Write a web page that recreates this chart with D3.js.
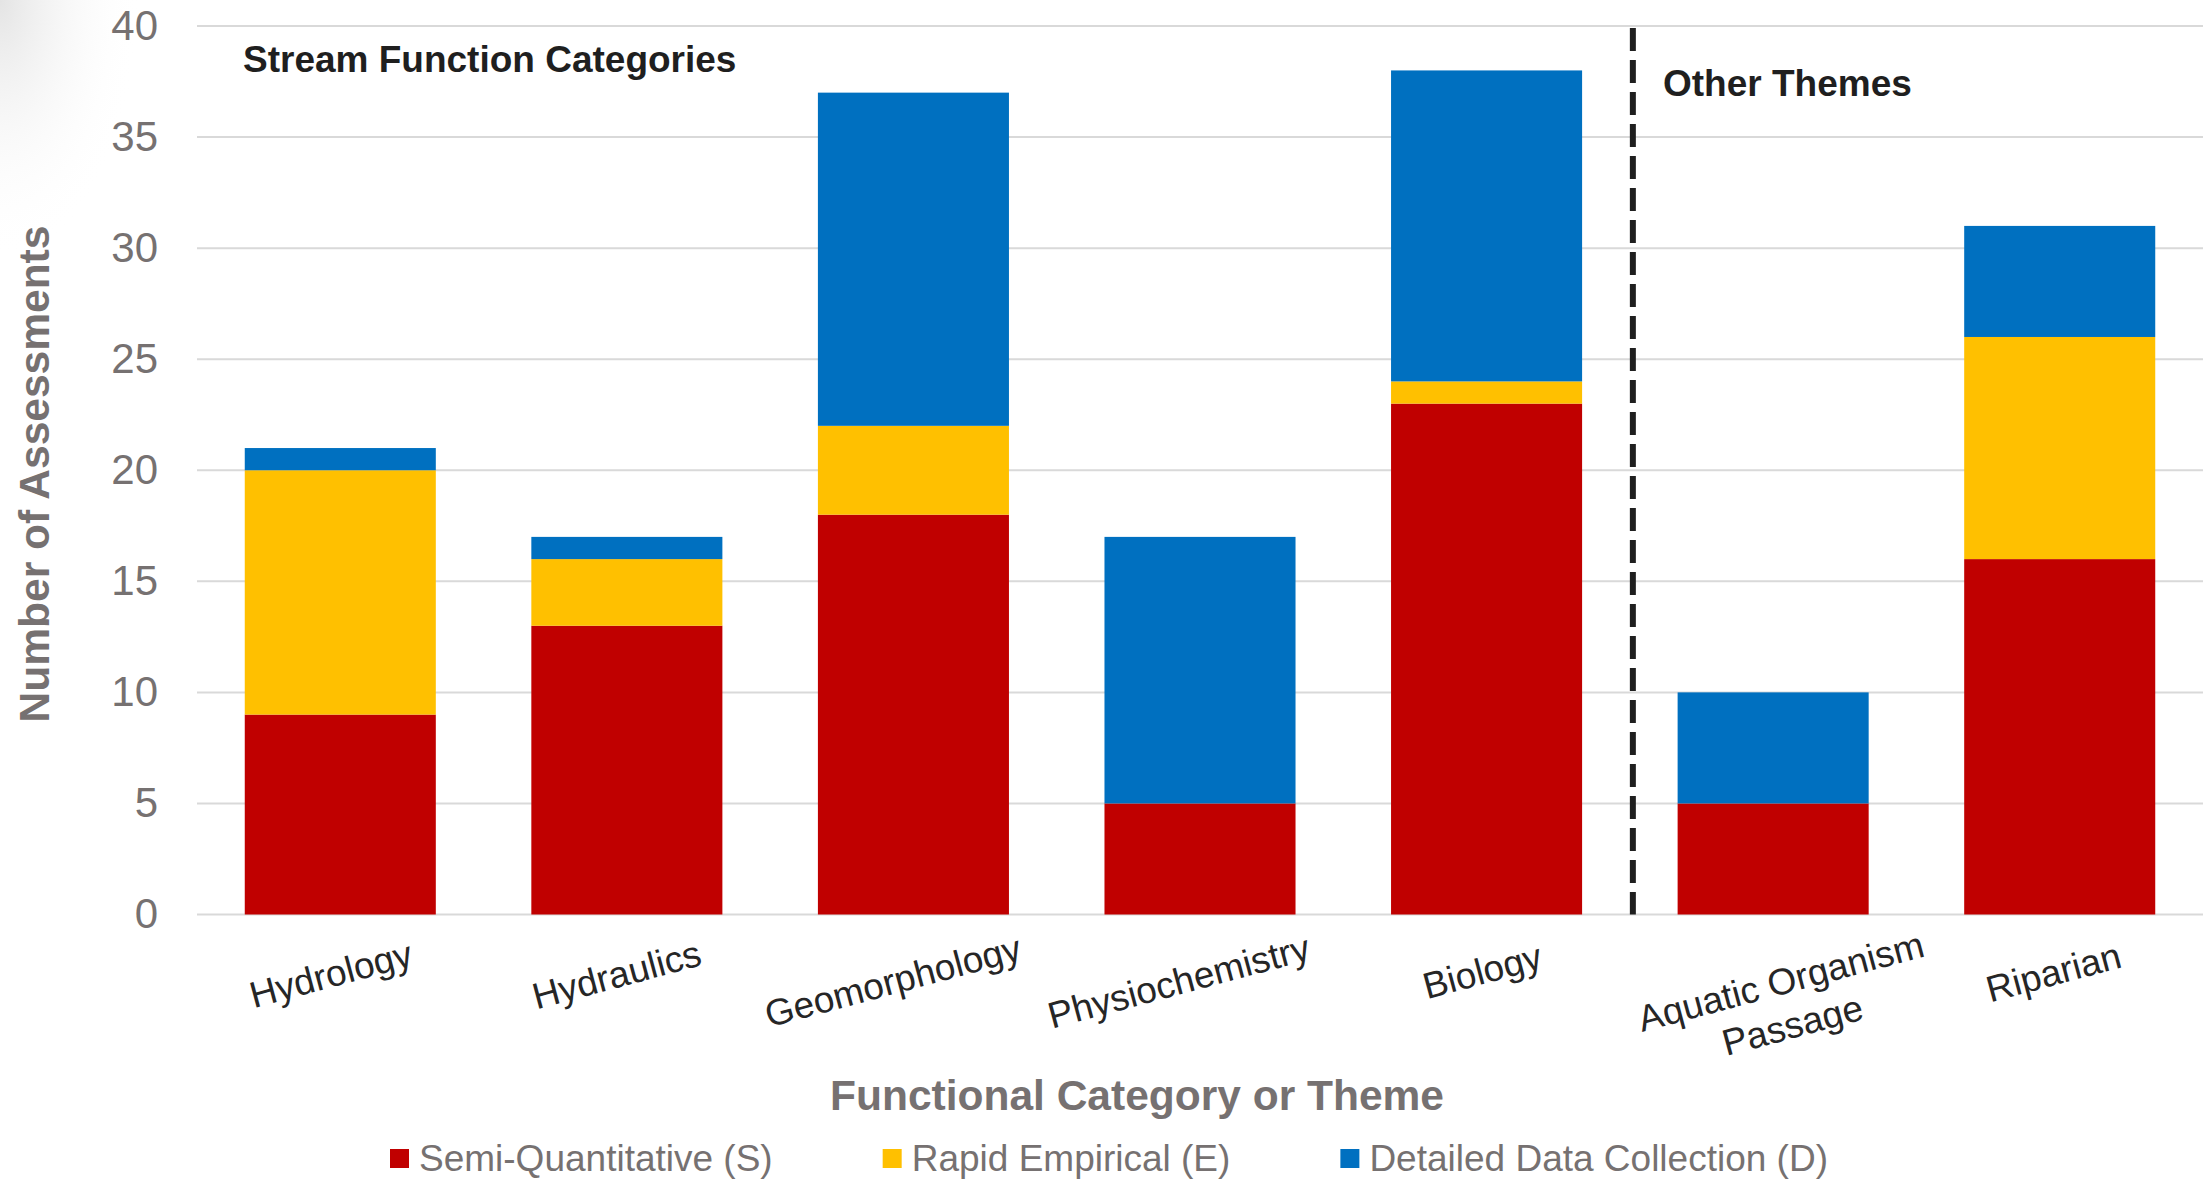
<!DOCTYPE html>
<html>
<head>
<meta charset="utf-8">
<script src="https://cdn.jsdelivr.net/npm/d3@7"></script>
<style>
  html, body { margin: 0; padding: 0; background: #ffffff; }
  svg { display: block; }
  text { font-family: "Liberation Sans", Arial, Helvetica, sans-serif; }
</style>
</head>
<body>
<svg id="chart" width="2203" height="1181"></svg>
<script>
// ---------------- DATA ----------------
const categories = ["Hydrology", "Hydraulics", "Geomorphology", "Physiochemistry", "Biology", "Aquatic Organism\nPassage", "Riparian"];
const semiQuantitative = [9, 13, 18, 5, 23, 5, 16];
const rapidEmpirical   = [11, 3, 4, 0, 1, 0, 10];
const detailedData     = [1, 1, 15, 12, 14, 5, 5];
const seriesNames  = ["Semi-Quantitative (S)", "Rapid Empirical (E)", "Detailed Data Collection (D)"];
const seriesKeys   = ["S", "E", "D"];
const seriesColors = ["#C00000", "#FFC000", "#0070C0"];
const yTicks = [0, 5, 10, 15, 20, 25, 30, 35, 40];
const yTitle = "Number of Assessments";
const xTitle = "Functional Category or Theme";
const groupLabels = ["Stream Function Categories", "Other Themes"];
const dividerAfter = "Biology";

// ---------------- LAYOUT ----------------
const W = 2203, H = 1181;
const plotLeft = 197, plotRight = 2203, plotTop = 26, plotBottom = 914.5;
const gray = "#767171";

const svg = d3.select("#chart");

// subtle corner shadow
const defs = svg.append("defs");
const rg = defs.append("radialGradient").attr("id", "corner")
  .attr("cx", 0).attr("cy", 0).attr("r", 1).attr("gradientUnits", "objectBoundingBox");
rg.append("stop").attr("offset", "0%").attr("stop-color", "#e4e4e4");
rg.append("stop").attr("offset", "100%").attr("stop-color", "#ffffff").attr("stop-opacity", 0);
svg.append("rect").attr("x", 0).attr("y", 0).attr("width", 140).attr("height", 260).attr("fill", "url(#corner)");

const table = categories.map((c, i) => ({ cat: c, S: semiQuantitative[i], E: rapidEmpirical[i], D: detailedData[i] }));

const x = d3.scaleBand().domain(categories).range([plotLeft, plotRight]).paddingInner(1/3).paddingOuter(1/6);
const y = d3.scaleLinear().domain([0, 40]).range([plotBottom, plotTop]);

// gridlines
svg.append("g").selectAll("line").data(yTicks).join("line")
  .attr("x1", plotLeft).attr("x2", plotRight)
  .attr("y1", d => y(d)).attr("y2", d => y(d))
  .attr("stroke", "#D9D9D9").attr("stroke-width", 2);

// y axis labels
const yAxis = d3.axisLeft(y).tickValues(yTicks).tickSize(0).tickPadding(39);
const gy = svg.append("g").attr("transform", `translate(${plotLeft},0)`).call(yAxis);
gy.select(".domain").remove();
gy.selectAll("text").attr("font-size", 42).attr("fill", gray)
  .style("font-family", '"Liberation Sans", Arial, sans-serif');

// bars
const stack = d3.stack().keys(seriesKeys);
const stacked = stack(table);
svg.append("g").selectAll("g").data(stacked).join("g")
  .attr("fill", (d, i) => seriesColors[i])
  .selectAll("rect").data(d => d).join("rect")
  .attr("x", d => x(d.data.cat))
  .attr("width", x.bandwidth())
  .attr("y", d => y(d[1]))
  .attr("height", d => Math.max(0, y(d[0]) - y(d[1])));

// divider dashed line
const divX = x(dividerAfter) + x.bandwidth() + x.step() * x.paddingInner() / 2 + 3;
svg.append("line")
  .attr("x1", divX).attr("x2", divX).attr("y1", plotTop + 2).attr("y2", plotBottom)
  .attr("stroke", "#1f1f1f").attr("stroke-width", 6).attr("stroke-dasharray", "23 9");

// group annotations
svg.append("text").attr("x", 243).attr("y", 72).text(groupLabels[0])
  .attr("font-size", 37).attr("font-weight", "bold").attr("fill", "#1f1f1f");
svg.append("text").attr("x", 1663).attr("y", 96).text(groupLabels[1])
  .attr("font-size", 37).attr("font-weight", "bold").attr("fill", "#1f1f1f");

// x labels (rotated -15deg)
const ang = -15, rad = ang * Math.PI / 180;
const xl = svg.append("g");
categories.forEach(c => {
  const lines = c.split("\n");
  const bc = x(c) + x.bandwidth() / 2;
  if (lines.length === 1) {
    const t = xl.append("text").text(c).attr("font-size", 37).attr("fill", "#262626").attr("text-anchor", "middle");
    const L = t.node().getComputedTextLength();
    const px = bc + 13 - 0.115 * L, py = 975 + 0.07 * L;
    t.attr("x", px).attr("y", py).attr("transform", `rotate(${ang},${px},${py})`);
  } else {
    const lh = 45;
    lines.forEach((ln, k) => {
      const px = bc + 11 + k * lh * Math.sin(-rad), py = 994 + k * lh * Math.cos(rad);
      xl.append("text").text(ln).attr("font-size", 37).attr("fill", "#262626").attr("text-anchor", "middle")
        .attr("x", px).attr("y", py).attr("transform", `rotate(${ang},${px},${py})`);
    });
  }
});

// axis titles
svg.append("text").text(yTitle)
  .attr("transform", "translate(49,474) rotate(-90)")
  .attr("text-anchor", "middle").attr("font-size", 42.5).attr("font-weight", "bold").attr("fill", gray);
svg.append("text").text(xTitle)
  .attr("x", 1137).attr("y", 1110)
  .attr("text-anchor", "middle").attr("font-size", 42.5).attr("font-weight", "bold").attr("fill", gray);

// legend
const lg = svg.append("g");
let lx = 390;
seriesNames.forEach((n, i) => {
  lg.append("rect").attr("x", lx).attr("y", 1149).attr("width", 19).attr("height", 19).attr("fill", seriesColors[i]);
  const t = lg.append("text").text(n).attr("x", lx + 29).attr("y", 1171)
    .attr("font-size", 37).attr("fill", gray);
  lx += 29 + t.node().getComputedTextLength() + 110;
});
</script>
</body>
</html>
